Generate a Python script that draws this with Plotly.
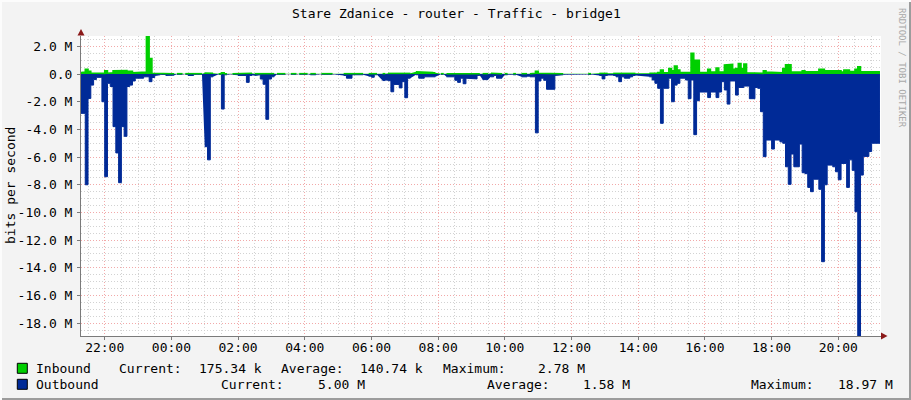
import plotly.graph_objects as go
from datetime import datetime, timedelta

N = None

# ---- data: 5-minute samples, in Mbit/s, starting 21:15 ----
sample_start = "2024-01-01 21:15"
sample_minutes = 5

inbound_mbit = [
    # 21:15
    0.10, 0.15, 0.34, 0.20, 0.08, 0.06, 0.05, 0.05, 0.05, 0.24, 0.06, 0.10,
    # 22:15
    0.24, 0.24, 0.29, 0.29, 0.25, 0.20, 0.20, 0.10, 0.10, 0.15, 0.15, 0.15,
    # 23:15
    2.78, 1.13, 0.05, 0.05, 0.05, 0.03, 0.03, 0.03, 0.03, 0.03, N, 0.03,
    # 00:15
    0.03, N, 0.03, 0.03, 0.03, 0.03, 0.03, 0.03, N, 0.08, 0.10, 0.05,
    # 01:15
    N, N, 0.03, 0.10, 0.03, N, N, 0.03, 0.03, 0.03, 0.03, 0.05,
    # 02:15
    0.05, 0.05, N, 0.03, 0.03, 0.03, 0.05, 0.07, 0.05, 0.03, N, 0.03,
    # 03:15
    0.03, 0.03, N, N, 0.03, 0.03, N, 0.03, 0.03, 0.03, N, 0.03,
    # 04:15
    0.03, N, N, 0.03, 0.03, 0.03, 0.03, N, N, N, N, 0.03,
    # 05:15
    0.03, 0.03, 0.03, 0.03, 0.03, 0.03, N, N, 0.03, 0.03, 0.03, N,
    # 06:15
    N, 0.03, N, 0.05, 0.10, 0.05, 0.05, 0.05, 0.05, 0.10, 0.05, N,
    # 07:15
    N, 0.17, 0.17, 0.17, 0.15, 0.12, 0.12, 0.10, N, N, 0.03, N,
    # 08:15
    0.03, 0.03, 0.03, 0.03, 0.03, 0.03, 0.07, 0.03, 0.03, 0.03, 0.03, 0.03,
    # 09:15
    N, 0.03, 0.03, N, 0.05, 0.03, 0.03, 0.03, N, 0.03, N, N,
    # 10:15
    0.03, N, N, 0.03, 0.03, N, 0.03, 0.05, 0.20, 0.05, 0.05, 0.05,
    # 11:15
    0.05, 0.05, 0.05, 0.05, 0.05, 0.03, N, N, N, N, N, N,
    # 12:15
    N, N, N, 0.03, N, N, N, 0.05, 0.05, 0.05, N, N,
    # 13:15
    0.05, 0.05, 0.05, 0.05, 0.05, 0.05, 0.05, 0.05, N, N, N, N,
    # 14:15
    N, 0.05, 0.05, 0.05, 0.12, 0.29, 0.10, 0.10, 0.41, 0.24, 0.58, 0.30,
    # 15:15
    0.12, 0.12, 0.12, 0.12, 1.50, 1.00, 1.00, 0.12, 0.12, 0.12, 0.34, 0.14,
    # 16:15
    0.14, 0.43, 0.14, 0.14, 0.65, 0.70, 0.70, 0.34, 0.40, 0.77, 0.41, 0.72,
    # 17:15
    0.10, 0.10, 0.10, 0.05, 0.05, 0.05, 0.24, 0.14, 0.14, 0.14, 0.14, 0.14,
    # 18:15
    0.10, 0.41, 0.67, 0.67, 0.14, 0.14, 0.14, 0.14, 0.24, 0.17, 0.17, 0.17,
    # 19:15
    0.17, 0.17, 0.34, 0.34, 0.24, 0.24, 0.24, 0.24, 0.24, 0.24, 0.14, 0.29,
    # 20:15
    0.29, 0.19, 0.19, 0.34, 0.53, 0.17, 0.17, 0.17, 0.17, 0.17, 0.175, 0.175,
]

outbound_mbit = [
    # 21:15
    2.84, 2.84, 8.00, 1.76, 0.80, 0.40, 0.24, 0.24, 2.00, 7.42, 0.67, 0.90,
    # 22:15
    3.80, 5.70, 7.85, 3.80, 4.50, 0.90, 0.80, 0.50, 0.30, 0.30, 0.30, 0.20,
    # 23:15
    0.20, 0.55, 0.25, 0.10, 0.05, 0.02, 0.03, 0.10, 0.10, 0.08, N, 0.02,
    # 00:15
    0.02, N, 0.02, 0.10, 0.10, 0.02, 0.02, 0.02, N, 5.25, 6.20, 0.20,
    # 01:15
    N, N, 0.02, 2.53, 0.05, N, N, 0.02, 0.05, 0.10, 0.10, 0.10,
    # 02:15
    0.60, 0.10, N, 0.10, 0.05, 0.36, 0.74, 3.27, 0.36, 0.20, N, 0.02,
    # 03:15
    0.02, 0.02, N, N, 0.02, 0.02, N, 0.02, 0.02, 0.02, N, 0.05,
    # 04:15
    0.05, N, N, 0.02, 0.02, 0.02, 0.02, N, N, N, N, 0.10,
    # 05:15
    0.30, 0.30, 0.05, 0.05, 0.10, 0.05, N, N, 0.15, 0.23, 0.05, N,
    # 06:15
    N, 0.47, N, 0.48, 1.28, 0.75, 0.75, 1.00, 0.55, 1.71, 0.30, N,
    # 07:15
    N, 0.05, 0.30, 0.30, 0.20, 0.20, 0.20, 0.20, N, N, 0.02, N,
    # 08:15
    0.20, 0.20, 0.20, 0.45, 0.60, 0.30, 0.70, 0.30, 0.30, 0.35, 0.35, 0.10,
    # 09:15
    N, 0.40, 0.40, N, 0.20, 0.10, 0.30, 0.30, N, 0.05, N, N,
    # 10:15
    0.05, N, N, 0.20, 0.20, N, 0.20, 0.20, 4.25, 0.50, 0.30, 0.45,
    # 11:15
    1.10, 1.10, 1.10, 0.10, 0.10, 0.05, N, N, N, N, N, N,
    # 12:15
    N, N, N, 0.03, N, N, N, 0.10, 0.35, 0.10, N, N,
    # 13:15
    0.10, 0.20, 0.55, 0.20, 0.30, 0.30, 0.20, 0.10, N, N, N, N,
    # 14:15
    N, 0.20, 0.43, 0.67, 1.03, 3.56, 1.03, 1.03, 0.30, 2.00, 0.80, 0.67,
    # 15:15
    0.30, 0.30, 0.43, 1.78, 0.43, 4.38, 1.93, 1.30, 1.30, 1.30, 1.70, 1.30,
    # 16:15
    1.30, 1.70, 1.30, 0.55, 1.15, 2.17, 0.50, 0.50, 1.52, 0.97, 0.97, 0.87,
    # 17:15
    0.87, 1.78, 1.78, 0.97, 1.03, 2.72, 5.97, 4.77, 4.77, 5.42, 4.77, 4.77,
    # 18:15
    4.90, 5.00, 6.70, 7.97, 5.78, 6.70, 6.70, 5.06, 7.13, 7.20, 8.19, 8.50,
    # 19:15
    7.60, 7.60, 8.33, 13.56, 8.00, 6.58, 6.58, 6.70, 7.06, 7.64, 6.46, 6.46,
    # 20:15
    8.19, 6.20, 6.96, 9.95, 18.97, 7.30, 5.95, 5.95, 5.60, 5.00, 5.00, 5.00,
]

y_tick_values_mbit = [2, 0, -2, -4, -6, -8, -10, -12, -14, -16, -18]
y_tick_labels = ["2.0 M", "0.0", "-2.0 M", "-4.0 M", "-6.0 M", "-8.0 M",
                 "-10.0 M", "-12.0 M", "-14.0 M", "-16.0 M", "-18.0 M"]

title_text = "Stare Zdanice - router - Traffic - bridge1"
y_title = "bits per second"
series_names = ["Inbound", "Outbound"]
series_colors = ["#00CF00", "#002A97"]
legend_inbound = [("Current:", 116.7), ("175.34 k", 197.0), ("Average:", 278.7),
                  ("140.74 k", 358.3), ("Maximum:", 440.6), ("2.78 M", 535.8)]
legend_outbound = [("Current:", 219.3), ("5.00 M", 315.5), ("Average:", 484.5),
                   ("1.58 M", 580.5), ("Maximum:", 748.7), ("18.97 M", 836.1)]

# ---- geometry ----
W, H = 911, 400
L, R, T, B = 81, 881, 36, 336


def px(x):
    return (x - L) / (R - L)


def py(y):
    return (B - y) / (B - T)


t0 = datetime.fromisoformat(sample_start)
dt = timedelta(minutes=sample_minutes)


def step_xy(values, sign):
    xs, ys = [], []
    for i, v in enumerate(values):
        t = t0 + i * dt
        if v is None:
            xs.append(t)
            ys.append(None)
        else:
            xs += [t, t + dt]
            ys += [sign * v * 1e6, sign * v * 1e6]
    return xs, ys


fig = go.Figure()
xo, yo = step_xy(outbound_mbit, -1)
fig.add_trace(go.Scatter(x=xo, y=yo, mode="lines", fill="tozeroy",
                         fillcolor=series_colors[1],
                         line=dict(color=series_colors[1], width=1),
                         connectgaps=False, hoverinfo="skip", name=series_names[1]))
xi, yi = step_xy(inbound_mbit, 1)
fig.add_trace(go.Scatter(x=xi, y=yi, mode="lines", fill="tozeroy",
                         fillcolor=series_colors[0],
                         line=dict(color=series_colors[0], width=1.5),
                         connectgaps=False, hoverinfo="skip", name=series_names[0]))

mono = "DejaVu Sans Mono"
red_grid = "#F2A9A9"
gray_grid = "#D2D2D2"
dash = "1px,2px"

x_left = t0 + timedelta(minutes=2.35)
x_right = x_left + timedelta(hours=(R - L) / 33.345)

fig.update_xaxes(
    type="date", range=[x_left, x_right],
    tickformat="%H:%M", tick0="2024-01-01 22:00", dtick=7200000,
    showgrid=True, gridcolor=red_grid, griddash=dash, gridwidth=1,
    minor=dict(dtick=1800000, tick0="2024-01-01 22:00", showgrid=True,
               gridcolor=gray_grid, griddash=dash, gridwidth=1),
    showline=True, linecolor="#7A7A7A", linewidth=1,
    ticks="outside", ticklen=3, tickcolor="#7A7A7A", ticklabelstandoff=-4,
    tickfont=dict(family=mono, size=13, color="#000000"),
    zeroline=False, fixedrange=True, automargin=False,
)
fig.update_yaxes(
    range=[-18.93e6, 2.75e6],
    tickmode="array", tickvals=[v * 1e6 for v in y_tick_values_mbit],
    ticktext=y_tick_labels,
    showgrid=True, gridcolor=red_grid, griddash=dash, gridwidth=1,
    minor=dict(tickmode="linear", tick0=0, dtick=500000, showgrid=True,
               gridcolor=gray_grid, griddash=dash, gridwidth=1),
    showline=True, linecolor="#7A7A7A", linewidth=1,
    ticks="outside", ticklen=3, tickcolor="#7A7A7A", ticklabelstandoff=2,
    tickfont=dict(family=mono, size=13, color="#000000"),
    zeroline=False, fixedrange=True, automargin=False,
)

annotations = [
    dict(text=title_text, x=px(456), y=py(13), xref="paper", yref="paper",
         showarrow=False, xanchor="center", yanchor="middle",
         font=dict(family=mono, size=13, color="#000000")),
    dict(text=y_title, x=px(10), y=py(186), xref="paper", yref="paper",
         showarrow=False, xanchor="center", yanchor="middle", textangle=-90,
         font=dict(family=mono, size=13, color="#000000")),
    dict(text="RRDTOOL / TOBI OETIKER", x=px(902), y=py(68), xref="paper", yref="paper",
         showarrow=False, xanchor="center", yanchor="middle", textangle=90,
         font=dict(family=mono, size=9, color="#A8A8A8")),
]
for name, row_y, items in [(series_names[0], 368.3, legend_inbound),
                           (series_names[1], 384.3, legend_outbound)]:
    annotations.append(dict(text=name, x=px(34.3), y=py(row_y), xref="paper", yref="paper",
                            showarrow=False, xanchor="left", yanchor="middle",
                            font=dict(family=mono, size=13, color="#000000")))
    for txt, xx in items:
        annotations.append(dict(text=txt, x=px(xx), y=py(row_y), xref="paper", yref="paper",
                                showarrow=False, xanchor="left", yanchor="middle",
                                font=dict(family=mono, size=13, color="#000000")))

shapes = []
# legend colour boxes
for color, row_y in [(series_colors[0], 368.3), (series_colors[1], 384.3)]:
    shapes.append(dict(type="rect", xref="paper", yref="paper",
                       x0=px(17.3), x1=px(27.3), y0=py(row_y - 5), y1=py(row_y + 5),
                       fillcolor=color, line=dict(color="#000000", width=1)))
# axis arrows
arrow_color = "#8B1A1A"
shapes.append(dict(type="path", xref="paper", yref="paper",
                   path=f"M {px(81)} {py(29)} L {px(77.5)} {py(35.5)} L {px(84.5)} {py(35.5)} Z",
                   fillcolor=arrow_color, line=dict(color=arrow_color, width=0)))
shapes.append(dict(type="line", xref="paper", yref="paper",
                   x0=px(881), x1=px(883), y0=py(336), y1=py(336),
                   line=dict(color="#7A7A7A", width=1)))
shapes.append(dict(type="path", xref="paper", yref="paper",
                   path=f"M {px(887.5)} {py(336)} L {px(881)} {py(332.5)} L {px(881)} {py(339.5)} Z",
                   fillcolor=arrow_color, line=dict(color=arrow_color, width=0)))
# frame
shapes.append(dict(type="line", xref="paper", yref="paper",
                   x0=px(0), x1=px(911), y0=py(399), y1=py(399),
                   line=dict(color="#9C9C9C", width=2)))
shapes.append(dict(type="line", xref="paper", yref="paper",
                   x0=px(910), x1=px(910), y0=py(0), y1=py(400),
                   line=dict(color="#9C9C9C", width=2)))
shapes.append(dict(type="line", xref="paper", yref="paper",
                   x0=px(0), x1=px(911), y0=py(1), y1=py(1),
                   line=dict(color="#FCFCFC", width=2)))
shapes.append(dict(type="line", xref="paper", yref="paper",
                   x0=px(1), x1=px(1), y0=py(0), y1=py(400),
                   line=dict(color="#FCFCFC", width=2)))

fig.update_layout(
    width=W, height=H, autosize=False,
    margin=dict(l=L, r=W - R, t=T, b=H - B, pad=0),
    paper_bgcolor="#F3F3F3", plot_bgcolor="#FFFFFF",
    showlegend=False,
    annotations=annotations, shapes=shapes,
)

fig.write_html(
    "out.html",
    config={"displayModeBar": False, "staticPlot": True},
    post_script="document.body.style.margin='0';document.body.style.overflow='hidden';",
)
